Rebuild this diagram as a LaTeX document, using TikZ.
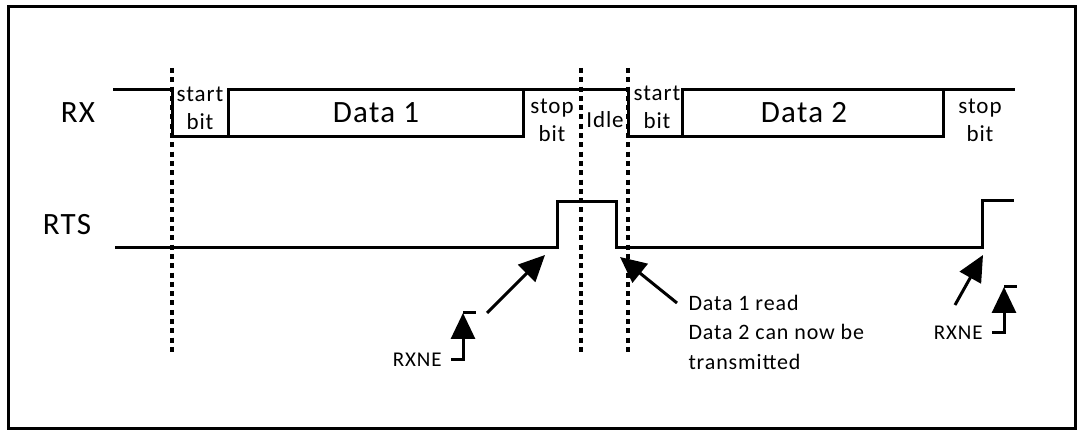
\documentclass[tikz,border=0pt]{standalone}
\usepackage{fontspec}
\setmainfont[LetterSpace=4]{Carlito}
\usetikzlibrary{arrows.meta,positioning}
\newcommand{\syncline}[1]{%
  \draw[sync] (#1,68)--(#1,355);
}
\newcommand{\rxneflag}[4]{%
  \node[flagtxt,anchor=east] (#1) at ({#2-20},#3) {RXNE};
  \coordinate (#1tip) at (#2,#4);
  \draw[hint] ([xshift=8pt]#1.east) -| (#1tip);
  \draw (#1tip) -- ++(13,0);
}

\begin{document}
\begin{tikzpicture}[x=1pt,y=-1pt,line width=3pt,
    sync/.style={line width=3.2pt,dash pattern=on 5pt off 4.3pt},
    bigtxt/.style={font=\fontsize{31}{36}\selectfont},
    smalltxt/.style={font=\fontsize{23}{28}\selectfont,align=center,inner sep=0pt},
    flagtxt/.style={font=\fontsize{21}{25}\selectfont,inner sep=0pt},
    hint/.style={-{Triangle[length=26pt,width=24pt]},line width=3pt}]
    \useasboundingbox (0,0) rectangle (1077,430);
    \draw (8,7) rectangle (1075,428);
    % signal names
    \node[bigtxt] (rx) at (78,113) {RX};
    \node[bigtxt] (rts) at (67,225) {RTS};
    % RX frame
    \draw (113,90) -- (172,90) -- (172,137) -- (523,137) -- (523,90);
    \draw (228,137) -- (228,90) -- (628,90) -- (628,137) -- (943,137) -- (943,90);
    \draw (682,137) -- (682,90) -- (1015,90);
    \node[smalltxt] (start1) at (200,108) {start\\bit};
    \node[bigtxt] (data1) at (376,113) {Data 1};
    \node[smalltxt] (stop1) at (552,120) {stop\\bit};
    \node[smalltxt] (idle) at (605,120) {Idle};
    \node[smalltxt] (start2) at (657,107) {start\\bit};
    \node[bigtxt] (data2) at (804,113) {Data 2};
    \node[smalltxt] (stop2) at (980,120) {stop\\bit};
    % RTS line
    \draw (115,248) -- (557,248) -- (557,202) -- (616,202) -- (616,248)
      -- (982,248) -- (982,201) -- (1014,201);
    \syncline{172}
    \syncline{581}
    \syncline{628}
    % flags and hints
    \coordinate (tailA) at (487,313);
    \coordinate (tipA) at (545,255);
    \draw[hint] (tailA) -- (tipA);
    \coordinate (tailB) at (677,303);
    \coordinate (tipB) at (620,257);
    \draw[hint] (tailB) -- (tipB);
    \coordinate (tailC) at (955,305);
    \coordinate (tipC) at (983,255);
    \draw[hint] (tailC) -- (tipC);
    \rxneflag{rxneA}{463}{360}{313}
    \rxneflag{rxneB}{1004}{333}{287}
    \node[font=\fontsize{22}{29.5}\selectfont,align=left,inner sep=0pt,anchor=west]
      (note) at (687,332) {Data 1 read\\Data 2 can now be\\transmitted};
  \end{tikzpicture}
\end{document}
